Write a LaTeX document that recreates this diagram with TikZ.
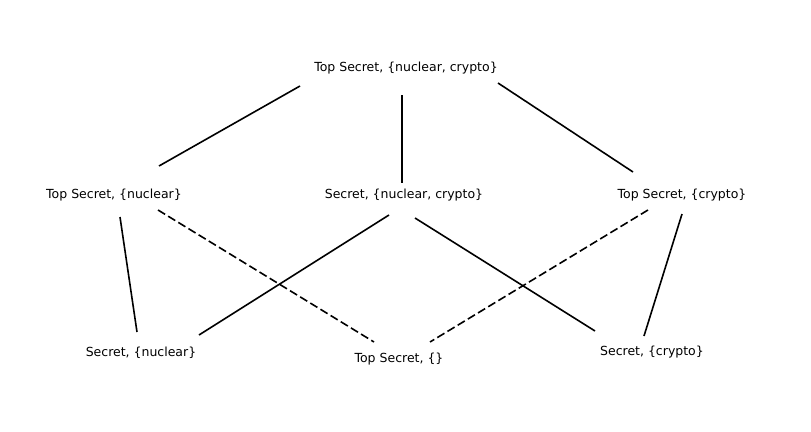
\documentclass[tikz,border=0pt]{standalone}
\usepackage{fontspec}
\setmainfont{DejaVu Sans}
\begin{document}
\begin{tikzpicture}[x=1pt,y=-1pt,
  lbl/.style={inner sep=0pt,font=\fontsize{12.5}{14}\selectfont},
  edge/.style={line width=1.6pt,line cap=butt},
  dedge/.style={edge,dash pattern=on 8.3pt off 3.6pt}]
\useasboundingbox (0,0) rectangle (811,431);
\node[lbl] (top) at (406,68.5) {Top Secret, \{nuclear, crypto\}};
\node[lbl] (tsn) at (114,195.5) {Top Secret, \{nuclear\}};
\node[lbl] (snc) at (404,195.5) {Secret, \{nuclear, crypto\}};
\node[lbl] (tsc) at (682,195.5) {Top Secret, \{crypto\}};
\node[lbl] (sn) at (141,352.5) {Secret, \{nuclear\}};
\node[lbl] (tse) at (399,359.5) {Top Secret, \{\}};
\node[lbl] (sc) at (652,352.5) {Secret, \{crypto\}};
% connector ends
\coordinate (top-a) at (300,86);   \coordinate (tsn-a) at (159,166);
\coordinate (top-b) at (402,95);   \coordinate (snc-a) at (402,183);
\coordinate (top-c) at (498,83);   \coordinate (tsc-a) at (633,172);
\coordinate (tsn-b) at (120,217);  \coordinate (sn-a) at (137,332);
\coordinate (tsn-c) at (158,210);  \coordinate (tse-a) at (374,342);
\coordinate (snc-b) at (389,215);  \coordinate (sn-b) at (199,335);
\coordinate (snc-c) at (415,218);  \coordinate (sc-a) at (595,331);
\coordinate (tsc-b) at (648,210);  \coordinate (tse-b) at (430,342);
\coordinate (tsc-c) at (682,214);  \coordinate (sc-b) at (644,336);
\draw[edge] (top-a) -- (tsn-a);
\draw[edge] (top-b) -- (snc-a);
\draw[edge] (top-c) -- (tsc-a);
\draw[edge] (tsn-b) -- (sn-a);
\draw[dedge] (tsn-c) -- (tse-a);
\draw[edge] (snc-b) -- (sn-b);
\draw[edge] (snc-c) -- (sc-a);
\draw[dedge] (tsc-b) -- (tse-b);
\draw[edge] (tsc-c) -- (sc-b);
\end{tikzpicture}
\end{document}
